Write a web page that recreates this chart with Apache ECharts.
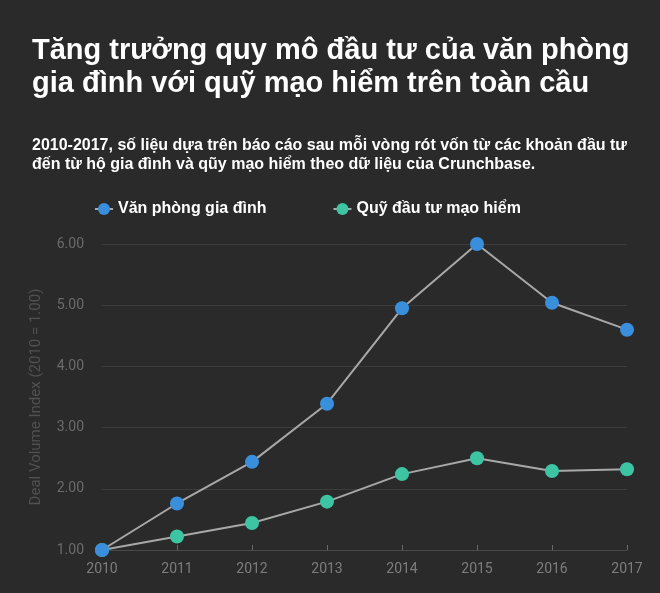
<!DOCTYPE html>
<html>
<head>
<meta charset="utf-8">
<script src="https://cdn.jsdelivr.net/npm/echarts@6/dist/echarts.min.js"></script>
<style>
html, body { margin: 0; padding: 0; background: #2a2a2a; }
#graph1 { width: 660px; height: 593px; }
</style>
</head>
<body>
<div id="graph1"></div>
<script>
var years = ['2010', '2011', '2012', '2013', '2014', '2015', '2016', '2017'];
var familyOffice = [1.00, 1.76, 2.44, 3.39, 4.95, 6.00, 5.04, 4.60];
var ventureFund = [1.00, 1.22, 1.44, 1.79, 2.24, 2.50, 2.29, 2.32];
var seriesNames = ['Văn phòng gia đình', 'Quỹ đầu tư mạo hiểm'];

var option1 = {
    backgroundColor: '#2a2a2a',
    title: [{
        text: 'Tăng trưởng quy mô đầu tư của văn phòng\ngia đình với quỹ mạo hiểm trên toàn cầu',
        left: 27,
        top: 29,
        textStyle: {
            color: '#fff',
            fontFamily: 'Liberation Sans',
            fontWeight: 'bold',
            fontSize: 29,
            lineHeight: 33
        }
    }, {
        text: '2010-2017, số liệu dựa trên báo cáo sau mỗi vòng rót vốn từ các khoản đầu tư\nđến từ hộ gia đình và qũy mạo hiểm theo dữ liệu của Crunchbase.',
        left: 27,
        top: 131,
        textStyle: {
            color: '#fff',
            fontFamily: 'Liberation Sans',
            fontWeight: 'bold',
            fontSize: 16,
            lineHeight: 19
        }
    }],
    legend: {
        left: 89,
        top: 196,
        itemGap: 66,
        itemWidth: 18,
        itemHeight: 15,
        textStyle: {
            color: '#fff',
            fontFamily: 'Liberation Sans',
            fontWeight: 'bold',
            fontSize: 16
        },
        data: seriesNames
    },
    grid: {
        left: 102,
        right: 33,
        top: 244,
        bottom: 43
    },
    xAxis: {
        type: 'category',
        boundaryGap: false,
        data: years,
        axisLine: { lineStyle: { color: '#4a4a4a', width: 1 } },
        axisTick: { show: true, inside: true, length: 5, lineStyle: { color: '#6a6a6a' } },
        axisLabel: {
            color: '#7d7d7d',
            fontFamily: 'Roboto',
            fontSize: 14,
            margin: 12
        },
        splitLine: { show: false }
    },
    yAxis: {
        type: 'value',
        min: 1,
        max: 6,
        interval: 1,
        name: 'Deal Volume Index (2010 = 1.00)',
        nameLocation: 'middle',
        nameGap: 58,
        nameTextStyle: {
            color: '#515151',
            fontFamily: 'Roboto',
            fontSize: 15
        },
        axisLine: { show: false },
        axisTick: { show: false },
        axisLabel: {
            color: '#6b6b6b',
            fontFamily: 'Roboto',
            fontSize: 14,
            margin: 18,
            formatter: function (v) { return v.toFixed(2); }
        },
        splitLine: { lineStyle: { color: '#3c3c3c', width: 1 } }
    },
    series: [{
        name: seriesNames[0],
        type: 'line',
        symbol: 'circle',
        symbolSize: 14,
        z: 3,
        itemStyle: { color: '#3a8fdd' },
        lineStyle: { color: '#a8a8a8', width: 2 },
        data: familyOffice
    }, {
        name: seriesNames[1],
        type: 'line',
        symbol: 'circle',
        symbolSize: 14,
        z: 2,
        itemStyle: { color: '#3dc4a3' },
        lineStyle: { color: '#a8a8a8', width: 2 },
        data: ventureFund
    }]
};

var myChart = echarts.init(document.getElementById('graph1'));
myChart.setOption(option1);
</script>
</body>
</html>
